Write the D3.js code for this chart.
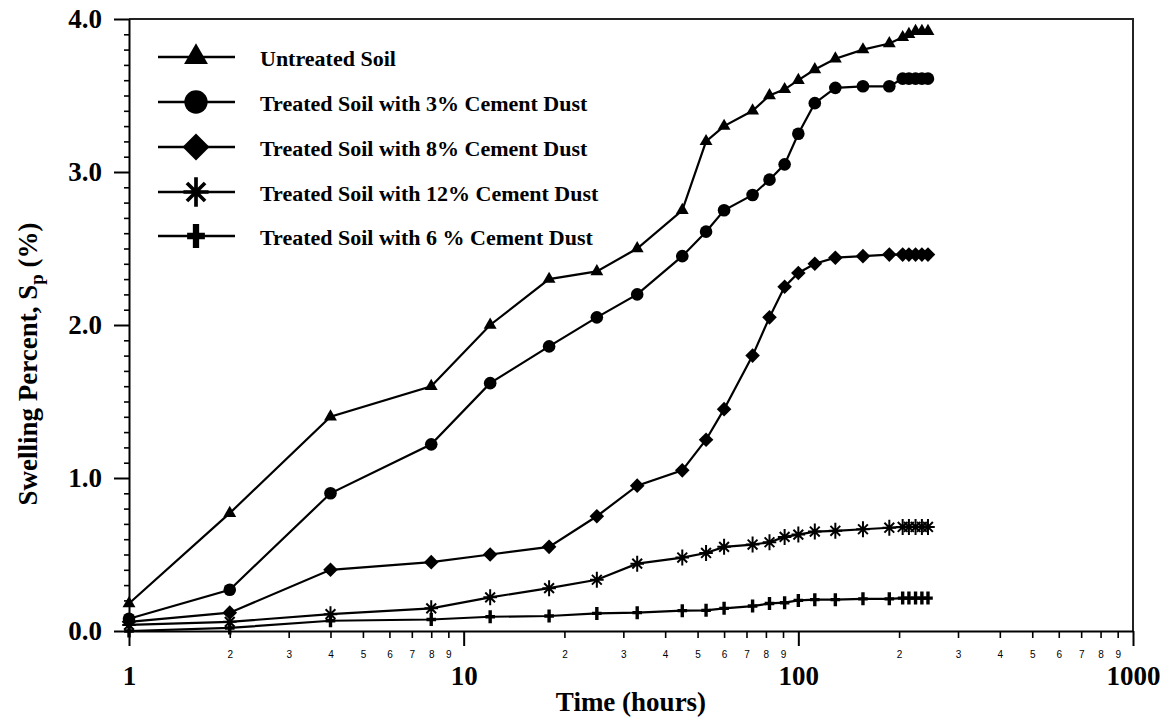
<!DOCTYPE html>
<html><head><meta charset="utf-8">
<script src="https://cdn.jsdelivr.net/npm/d3@7"></script>
<style>body{margin:0;background:#fff}</style>
</head><body><svg id="c" width="1169" height="719"></svg>
<script>
// ---- data ----
const timeHours = [1,2,4,8,12,18,25,33,45,53,60,73,82,91,100,112,129,156,187,205,214,224,234,244];
const untreatedSoil = [0.18,0.77,1.40,1.60,2.00,2.30,2.35,2.50,2.75,3.20,3.30,3.40,3.50,3.54,3.60,3.67,3.74,3.80,3.84,3.88,3.90,3.92,3.92,3.92];
const cement3 = [0.08,0.27,0.90,1.22,1.62,1.86,2.05,2.20,2.45,2.61,2.75,2.85,2.95,3.05,3.25,3.45,3.55,3.56,3.56,3.61,3.61,3.61,3.61,3.61];
const cement8 = [0.06,0.12,0.40,0.45,0.50,0.55,0.75,0.95,1.05,1.25,1.45,1.80,2.05,2.25,2.34,2.40,2.44,2.45,2.46,2.46,2.46,2.46,2.46,2.46];
const cement12 = [0.04,0.06,0.11,0.148,0.22,0.28,0.335,0.44,0.48,0.51,0.55,0.565,0.58,0.615,0.63,0.65,0.655,0.665,0.675,0.68,0.68,0.68,0.68,0.68];
const cement6 = [0.00,0.02,0.067,0.075,0.093,0.098,0.115,0.12,0.133,0.135,0.148,0.163,0.18,0.185,0.20,0.205,0.205,0.21,0.21,0.215,0.215,0.215,0.215,0.215];
const seriesNames = ["Untreated Soil","Treated Soil with 3% Cement Dust","Treated Soil with 8% Cement Dust","Treated Soil with 12% Cement Dust","Treated Soil with 6 % Cement Dust"];
const seriesMarkers = ["triangle","circle","diamond","asterisk","plus"];
const xMajorTicks = [1,10,100,1000];
const yMajorTicks = [0,1,2,3,4];
const xTitle = "Time (hours)";

const seriesValues = [untreatedSoil, cement3, cement8, cement12, cement6];

const svg = d3.select('#c');
const serif = "'Liberation Serif','Times New Roman',serif";
const x = d3.scaleLog().domain([1,1000]).range([129,1133]);
const y = d3.scaleLinear().domain([0,4]).range([631,19]);

// frame (top & right)
svg.append('path')
  .attr('d', `M${x(1)},${y(4)}H${x(1000)}V${y(0)}`)
  .attr('fill','none').attr('stroke','#222').attr('stroke-width',2);

// x minor ticks
const xMinor = [];
[1,10,100].forEach(dec => { for (let k=2;k<=9;k++) xMinor.push(k*dec); });
const gxm = svg.append('g').attr('transform',`translate(0,${y(0)})`)
  .call(d3.axisBottom(x).tickValues(xMinor).tickSize(7).tickSizeOuter(0)
    .tickFormat(d => String(Math.round(d / Math.pow(10, Math.floor(Math.log10(d)+1e-9))))));
gxm.select('.domain').remove();
gxm.selectAll('line').attr('stroke','#000').attr('stroke-width',1.6);
gxm.selectAll('text').attr('y',27).attr('dy',0).attr('font-family',"'Liberation Sans',Arial,sans-serif").attr('font-size',10).attr('fill','#000');

// x major
const gx = svg.append('g').attr('transform',`translate(0,${y(0)})`)
  .call(d3.axisBottom(x).tickValues(xMajorTicks).tickSize(15).tickSizeOuter(0).tickFormat(d3.format('d')));
gx.select('.domain').attr('stroke','#000').attr('stroke-width',2);
gx.selectAll('line').attr('stroke','#000').attr('stroke-width',2);
gx.selectAll('text').attr('y',54).attr('dy',0).attr('font-family',serif).attr('font-weight','bold').attr('font-size',27).attr('fill','#000');

// y minor
const yMinor = d3.range(0,41).map(i=>i/10).filter(v => Math.abs(v-Math.round(v))>1e-6);
const gym = svg.append('g').attr('transform',`translate(${x(1)},0)`)
  .call(d3.axisLeft(y).tickValues(yMinor).tickSize(5).tickFormat(''));
gym.select('.domain').remove();
gym.selectAll('line').attr('stroke','#000').attr('stroke-width',1.6);

// y major
const gy = svg.append('g').attr('transform',`translate(${x(1)},0)`)
  .call(d3.axisLeft(y).tickValues(yMajorTicks).tickSize(15).tickSizeOuter(0).tickFormat(d3.format('.1f')));
gy.select('.domain').attr('stroke','#000').attr('stroke-width',2);
gy.selectAll('line').attr('stroke','#000').attr('stroke-width',2);
gy.selectAll('text').attr('x',-27).attr('dy','0.33em').attr('font-family',serif).attr('font-weight','bold').attr('font-size',27).attr('fill','#000');

// axis titles
svg.append('text').attr('x',(x(1)+x(1000))/2).attr('y',711).attr('text-anchor','middle')
  .attr('font-family',serif).attr('font-weight','bold').attr('font-size',27).text(xTitle);
const yt = svg.append('text').attr('transform','translate(37,364) rotate(-90)').attr('text-anchor','middle')
  .attr('font-family',serif).attr('font-weight','bold').attr('font-size',27);
yt.append('tspan').text('Swelling Percent, S');
yt.append('tspan').attr('font-size',19).attr('dy',6).text('p');
yt.append('tspan').attr('dy',-6).text(' (%)');

// marker drawing
function drawMarker(g, type, cx, cy, s) {
  if (type === 'triangle') {
    g.append('path').attr('d', d3.symbol(d3.symbolTriangle, 72*s*s)()).attr('transform',`translate(${cx},${cy})`).attr('fill','#000');
  } else if (type === 'circle') {
    g.append('circle').attr('cx',cx).attr('cy',cy).attr('r',6.3*s).attr('fill','#000');
  } else if (type === 'diamond') {
    const r = 7.3*s;
    g.append('path').attr('d',`M${cx},${cy-r}L${cx+r},${cy}L${cx},${cy+r}L${cx-r},${cy}Z`).attr('fill','#000');
  } else if (type === 'asterisk') {
    const r = 6.8*s, rv = 8*s, d = r*0.72;
    g.append('path').attr('d',`M${cx},${cy-rv}V${cy+rv}M${cx-r},${cy}H${cx+r}M${cx-d},${cy-d}L${cx+d},${cy+d}M${cx-d},${cy+d}L${cx+d},${cy-d}`)
      .attr('stroke','#000').attr('stroke-width',2*s).attr('fill','none');
  } else if (type === 'plus') {
    const rh = 4.8*s, rv = 6.5*s;
    g.append('path').attr('d',`M${cx},${cy-rv}V${cy+rv}M${cx-rh},${cy}H${cx+rh}`)
      .attr('stroke','#000').attr('stroke-width',3.4*s).attr('fill','none');
  }
}

// series
const line = d3.line().x(d=>x(d.t)).y(d=>y(d.v));
seriesValues.forEach((vals, i) => {
  const pts = timeHours.map((t,j)=>({t, v: vals[j]}));
  const g = svg.append('g');
  g.append('path').datum(pts).attr('d', line).attr('fill','none').attr('stroke','#000').attr('stroke-width',2.2);
  pts.forEach(p => drawMarker(g, seriesMarkers[i], x(p.t), y(p.v), 1));
});

// legend
const legRows = [57,102,147,192,236];
seriesNames.forEach((name,i) => {
  const g = svg.append('g');
  const ry = legRows[i];
  g.append('line').attr('x1',158).attr('x2',235).attr('y1',ry).attr('y2',ry).attr('stroke','#000').attr('stroke-width',2.6);
  drawMarker(g, seriesMarkers[i], 196, ry, 1.85);
  g.append('text').attr('x',260).attr('y',ry+8.5).attr('font-family',serif).attr('font-weight','bold').attr('font-size',22).text(name);
});
</script>
</body></html>
